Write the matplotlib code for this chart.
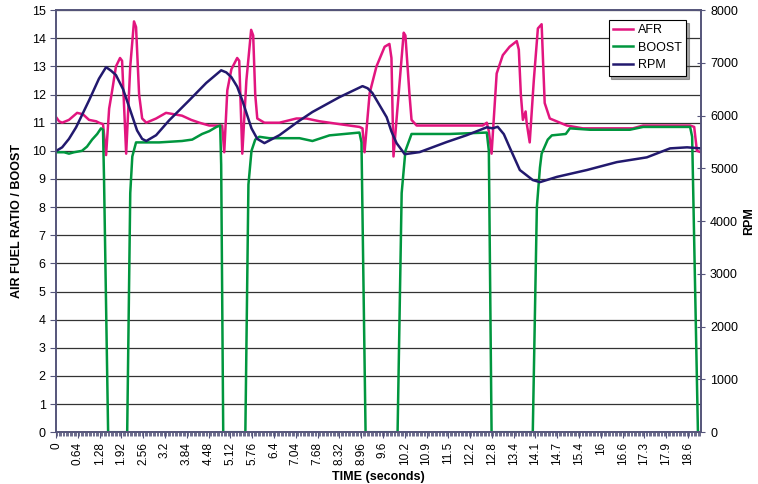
import matplotlib
matplotlib.use("Agg")
import matplotlib.pyplot as plt
from matplotlib.ticker import MultipleLocator, FixedLocator

plt.rcParams['font.family'] = ['Liberation Sans', 'DejaVu Sans']

# keypoints (time in s, value)
afr_t = [0.00, 0.09, 0.18, 0.38, 0.62, 0.79, 0.97, 1.18, 1.26, 1.38, 1.47, 1.56, 1.65, 1.76,
         1.88, 1.94, 2.06, 2.18, 2.29, 2.35, 2.44, 2.53, 2.65, 2.94, 3.23, 3.47, 3.70, 3.97,
         4.21, 4.50, 4.88, 4.94, 5.03, 5.15, 5.32, 5.38, 5.47, 5.59, 5.73, 5.79, 5.85, 5.91,
         6.12, 6.56, 7.06, 7.35, 7.74, 8.32, 8.91, 9.00, 9.06, 9.21, 9.41, 9.65, 9.79, 9.85,
         9.91, 10.06, 10.21, 10.26, 10.38, 10.44, 10.59, 12.53, 12.65, 12.71, 12.79, 12.94,
         13.12, 13.32, 13.53, 13.59, 13.65, 13.71, 13.79, 13.82, 13.91, 14.03, 14.15, 14.26,
         14.35, 14.50, 15.00, 15.47, 16.94, 17.24, 18.62, 18.74, 18.82, 18.94]
afr_v = [11.2, 11.05, 11.0, 11.1, 11.35, 11.3, 11.1, 11.05, 11.0, 10.95, 9.85, 11.5, 12.15, 13.0,
         13.3, 13.2, 9.9, 13.0, 14.6, 14.4, 12.0, 11.15, 11.0, 11.15, 11.35, 11.3, 11.25, 11.1,
         11.0, 10.9, 10.9, 9.95, 12.15, 12.9, 13.3, 13.2, 9.9, 12.5, 14.3, 14.1, 12.0, 11.15,
         11.0, 11.0, 11.15, 11.15, 11.05, 10.95, 10.85, 10.8, 9.95, 12.05, 13.0, 13.7, 13.8, 13.3,
         9.8, 12.0, 14.2, 14.1, 12.0, 11.1, 10.9, 10.9, 11.0, 10.7, 9.9, 12.75,
         13.4, 13.7, 13.9, 13.6, 12.0, 11.1, 11.4, 11.0, 10.3, 12.5, 14.35, 14.5,
         11.7, 11.15, 10.9, 10.8, 10.8, 10.9, 10.9, 10.85, 10.0, 9.95]

boost_t = [0.00, 0.24, 0.38, 0.53, 0.76, 0.91, 1.06, 1.21, 1.32, 1.38, 1.41, 1.53, 2.09, 2.18,
           2.24, 2.35, 3.03, 3.70, 4.00, 4.29, 4.50, 4.71, 4.82, 4.85, 4.91, 5.56, 5.65, 5.74,
           5.85, 5.97, 6.26, 7.15, 7.53, 8.03, 8.47, 8.91, 8.97, 9.09, 10.03, 10.15, 10.26,
           10.44, 11.56, 12.65, 12.71, 12.79, 14.00, 14.12, 14.21, 14.26, 14.44, 14.56, 14.97,
           15.09, 15.68, 16.85, 17.24, 18.62, 18.68, 18.85, 18.94]
boost_v = [9.95, 9.95, 9.9, 9.95, 10.0, 10.15, 10.4, 10.6, 10.8, 10.75, 9.0, 0, 0, 8.5,
           9.8, 10.3, 10.3, 10.35, 10.4, 10.6, 10.7, 10.85, 10.9, 9.5, 0, 0, 8.8, 10.0,
           10.4, 10.5, 10.45, 10.45, 10.35, 10.55, 10.6, 10.65, 10.3, 0, 0, 8.5, 10.0,
           10.6, 10.6, 10.65, 10.0, 0, 0, 8.0, 9.4, 9.9, 10.4, 10.55, 10.6,
           10.8, 10.75, 10.75, 10.85, 10.85, 10.5, 0, 0]

rpm_t = [0.00, 0.18, 0.38, 0.59, 0.97, 1.26, 1.47, 1.62, 1.76, 1.97, 2.15, 2.38, 2.53, 2.65,
         2.94, 3.32, 3.91, 4.41, 4.85, 5.00, 5.15, 5.32, 5.47, 5.74, 5.91, 6.12, 6.56, 7.09,
         7.53, 8.32, 9.00, 9.15, 9.29, 9.71, 9.85, 10.00, 10.24, 10.68, 11.47, 12.06, 12.65,
         12.82, 12.97, 13.15, 13.32, 13.62, 14.00, 14.21, 14.71, 15.59, 16.47, 17.35, 18.03,
         18.53, 18.94]
rpm_v = [5330, 5400, 5560, 5780, 6290, 6700, 6920, 6850, 6770, 6500, 6160, 5720, 5560, 5520,
         5630, 5910, 6290, 6620, 6860, 6820, 6730, 6550, 6290, 5760, 5560, 5480, 5630, 5880,
         6070, 6350, 6560, 6520, 6430, 5970, 5700, 5480, 5270, 5310, 5500, 5630, 5780,
         5760, 5790, 5650, 5400, 4970, 4780, 4740, 4840, 4970, 5120, 5210, 5380,
         5400, 5380]

tick_times = [k * 0.64 for k in range(30)]
tick_labels = ['%.3g' % t for t in tick_times]

afr_col = '#e2157f'
boost_col = '#00963e'
rpm_col = '#22196e'
spine_col = '#55557a'

fig = plt.figure(figsize=(7.58, 4.84), dpi=100)
ax = fig.add_axes([0.0739, 0.107, 0.8509, 0.872])
ax2 = ax.twinx()

ax.set_xlim(0, 18.94)
ax.set_ylim(0, 15)
ax2.set_ylim(0, 8000)

ax.yaxis.set_major_locator(MultipleLocator(1))
ax.grid(axis='y', color='#333333', linewidth=0.9)
ax.set_axisbelow(True)

l1, = ax.plot(afr_t, afr_v, color=afr_col, lw=1.8, label='AFR')
l2, = ax.plot(boost_t, boost_v, color=boost_col, lw=1.8, label='BOOST')
l3, = ax2.plot(rpm_t, rpm_v, color=rpm_col, lw=1.8, label='RPM')

ax.xaxis.set_major_locator(FixedLocator(tick_times))
ax.set_xticklabels(tick_labels, rotation=90)
ax.xaxis.set_minor_locator(MultipleLocator(0.04))
ax.tick_params(axis='x', which='major', length=4, color=spine_col, labelsize=8.5, pad=3)
ax.tick_params(axis='x', which='minor', length=3, color=spine_col)
ax.tick_params(axis='y', length=4, color=spine_col, labelsize=9)
ax2.yaxis.set_major_locator(MultipleLocator(1000))
ax2.tick_params(axis='y', direction='inout', length=6, color=spine_col, labelsize=9)

for a in (ax, ax2):
    for s in a.spines.values():
        s.set_color(spine_col)
        s.set_linewidth(1.2)

ax.set_ylabel('AIR FUEL RATIO / BOOST', fontsize=9, fontweight='bold', labelpad=6)
ax2.set_ylabel('RPM', fontsize=9, fontweight='bold', labelpad=4)
ax.set_xlabel('TIME (seconds)', fontsize=9, fontweight='bold', labelpad=4)

leg = ax.legend(handles=[l1, l2, l3], loc='upper right', bbox_to_anchor=(0.977, 0.977),
                borderaxespad=0, fontsize=9, fancybox=False, shadow=True, framealpha=1,
                edgecolor='black', handlelength=1.6, handletextpad=0.4,
                borderpad=0.35, labelspacing=0.45)
leg.get_frame().set_linewidth(0.8)

fig.savefig('out.png', dpi=100)
